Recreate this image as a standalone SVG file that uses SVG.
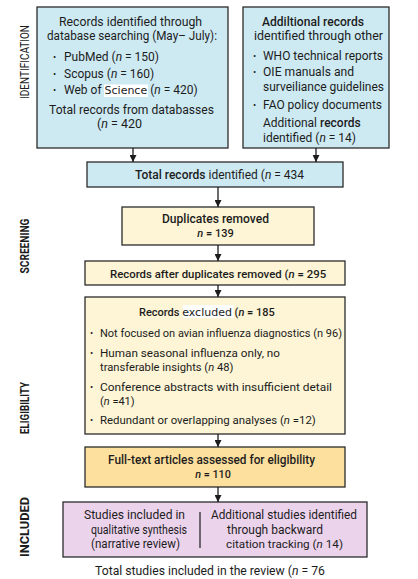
<svg xmlns="http://www.w3.org/2000/svg" width="418" height="579" viewBox="0 0 418 579">
<style>
.bg{fill:#ffffff}
.box{stroke:#2b2b2b;stroke-width:1.3}
.blue{fill:#cdeaf3}
.yel{fill:#fdf5d6}
.org{fill:#fddf9e}
.pur{fill:#ecd3ec}
text{font-family:Roboto,"Open Sans","Noto Sans",sans-serif;fill:#1c1c1c}
.f125{font-size:12.5px}
.f12{font-size:12px}
.f115{font-size:11.5px}
.b{font-weight:500}
.side{font-size:12.5px}
.sb{font-weight:700}
.i{font-style:italic}
.alt{font-family:"DejaVu Sans",Verdana,sans-serif;font-size:11px;font-weight:400}
.dot{font-size:9.5px}
.hl{fill:#ffffff}
.conn line{stroke:#1c1c1c;stroke-width:1.3;marker-end:url(#ah)}
.div{stroke:#2b2b2b;stroke-width:1.3}
</style>
<defs>
<marker id="ah" viewBox="0 0 8 8" refX="8" refY="4" markerWidth="7" markerHeight="7" markerUnits="userSpaceOnUse" orient="auto">
<path d="M0,0 L8,4 L0,8 z" fill="#1c1c1c"/>
</marker>
</defs>
<rect class="bg" x="0" y="0" width="418" height="579"/>

<g id="labels">
<text class="side" transform="translate(29,62) rotate(-90)" text-anchor="middle" textLength="74" lengthAdjust="spacingAndGlyphs">IDENTIFICATION</text>
<text class="side sb" transform="translate(29,246) rotate(-90)" text-anchor="middle" textLength="55" lengthAdjust="spacingAndGlyphs">SCREENING</text>
<text class="side sb" transform="translate(29,408) rotate(-90)" text-anchor="middle" textLength="52" lengthAdjust="spacingAndGlyphs">ELIGIBILITY</text>
<text class="side sb" transform="translate(29,527) rotate(-90)" text-anchor="middle" textLength="60" lengthAdjust="spacingAndGlyphs">INCLUDED</text>
</g>

<g id="db">
<rect class="box blue" x="37" y="7" width="191" height="141"/>
<rect class="hl" x="104" y="84.5" width="44" height="12.5"/>
<text class="f125" x="130.5" y="25.5" text-anchor="middle" textLength="143" lengthAdjust="spacingAndGlyphs">Records identified through</text>
<text class="f125" x="132" y="40" text-anchor="middle" textLength="170" lengthAdjust="spacingAndGlyphs">database searching (May– July):</text>
<text class="dot" x="53" y="60">•</text>
<text class="f12" x="64" y="61">PubMed (<tspan class="i">n</tspan> = 150)</text>
<text class="dot" x="53" y="76.5">•</text>
<text class="f12" x="64" y="77.5">Scopus (<tspan class="i">n</tspan> = 160)</text>
<text class="dot" x="53" y="93">•</text>
<text class="f12" x="64" y="94">Web of <tspan class="alt">Science</tspan> (<tspan class="i">n</tspan> = 420)</text>
<text class="f125" x="131.5" y="114" text-anchor="middle" textLength="165" lengthAdjust="spacingAndGlyphs">Total records from databasses</text>
<text class="f125" x="97" y="128">(<tspan class="i">n</tspan> = 420</text>
</g>

<g id="other">
<rect class="box blue" x="243" y="7" width="146" height="141"/>
<text class="f125 b" x="313" y="25.5" text-anchor="middle" textLength="102" lengthAdjust="spacingAndGlyphs">Addiltional records</text>
<text class="f125" x="318.5" y="39.5" text-anchor="middle" textLength="129" lengthAdjust="spacingAndGlyphs">identified through other</text>
<text class="dot" x="253" y="58.5">•</text>
<text class="f125" x="263" y="59.5" textLength="120" lengthAdjust="spacingAndGlyphs">WHO technical reports</text>
<text class="dot" x="253" y="75">•</text>
<text class="f125" x="263" y="76" textLength="91" lengthAdjust="spacingAndGlyphs">OIE manuals and</text>
<text class="f125" x="263" y="90.5" textLength="121" lengthAdjust="spacingAndGlyphs">surveiliance guidelines</text>
<text class="dot" x="253" y="107.5">•</text>
<text class="f125" x="263" y="108.5" textLength="119" lengthAdjust="spacingAndGlyphs">FAO policy documents</text>
<text class="f12" x="263" y="126.5">Additional <tspan class="b">records</tspan></text>
<text class="f12" x="263" y="141.5">identified (<tspan class="i">n</tspan> = 14)</text>
</g>

<g id="total">
<rect class="box blue" x="87" y="162" width="256" height="25"/>
<text class="f12" x="135" y="178.5"><tspan class="b">Total records</tspan> identified (<tspan class="i">n</tspan> = 434</text>
</g>

<g id="dup">
<rect class="box yel" x="122" y="207" width="192" height="38"/>
<text class="f12 b" x="215.5" y="223" text-anchor="middle" textLength="107" lengthAdjust="spacingAndGlyphs">Duplicates removed</text>
<text class="b" font-size="11" x="215.5" y="236.5" text-anchor="middle"><tspan class="i">n</tspan> = 139</text>
</g>

<g id="after">
<rect class="box yel" x="85" y="261" width="260" height="24"/>
<text class="b" font-size="11.4" x="110" y="277.5">Records after duplicates removed (<tspan class="i">n</tspan> = 295</text>
</g>

<g id="excl">
<rect class="box yel" x="85" y="297" width="260" height="137"/>
<rect class="hl" x="183" y="305" width="50.5" height="13"/>
<text class="b" font-size="11" x="139" y="316">Records <tspan class="alt">excluded</tspan> (<tspan class="i">n</tspan> = 185</text>
<text class="dot" x="90" y="336">•</text>
<text class="f115" x="100" y="337" textLength="242" lengthAdjust="spacingAndGlyphs">Not focused on avian influenza diagnostics (n 96)</text>
<text class="dot" x="90" y="356">•</text>
<text class="f115" x="100" y="357" textLength="180" lengthAdjust="spacingAndGlyphs">Human seasonal influenza only, no</text>
<text font-size="11.2" x="100" y="370.5">transferable insights (<tspan class="i">n</tspan> 48)</text>
<text class="dot" x="90" y="390">•</text>
<text class="f115" x="100" y="391" textLength="232" lengthAdjust="spacingAndGlyphs">Conference abstracts with insufficient detail</text>
<text font-size="11" x="100" y="404.5">(<tspan class="i">n</tspan> =41)</text>
<text class="dot" x="90" y="423">•</text>
<text font-size="11.4" x="100" y="424">Redundant or overlapping analyses (<tspan class="i">n</tspan> =12)</text>
</g>

<g id="full">
<rect class="box org" x="85" y="447" width="260" height="40"/>
<text class="f12 b" x="211.5" y="464" text-anchor="middle" textLength="207" lengthAdjust="spacingAndGlyphs">Full-text articles assessed for eligibility</text>
<text class="b" font-size="10.8" x="213" y="477.5" text-anchor="middle"><tspan class="i">n</tspan> = 110</text>
</g>

<g id="incl">
<rect class="box pur" x="63" y="502" width="304" height="55"/>
<line class="div" x1="200" y1="512" x2="200" y2="548"/>
<text class="f12" x="134.5" y="518.5" text-anchor="middle" textLength="101" lengthAdjust="spacingAndGlyphs">Studies included in</text>
<text class="f12" x="139" y="533.5" text-anchor="middle" textLength="96" lengthAdjust="spacingAndGlyphs">qualitative synthesis</text>
<text class="f12" x="135.5" y="548" text-anchor="middle" textLength="89" lengthAdjust="spacingAndGlyphs">(narrative review)</text>
<text class="f12" x="284" y="518.5" text-anchor="middle" textLength="146" lengthAdjust="spacingAndGlyphs">Additional studies identified</text>
<text class="f12" x="275" y="533.5" text-anchor="middle" textLength="96" lengthAdjust="spacingAndGlyphs">through backward</text>
<text font-size="11.7" x="284.5" y="548" text-anchor="middle">citation tracking (<tspan class="i">n</tspan> 14)</text>
</g>

<g id="sum">
<text font-size="12.2" x="210" y="574.5" text-anchor="middle">Total studies included in the review (<tspan class="i">n</tspan> = 76</text>
</g>

<g id="connectors" class="conn">
<line x1="133" y1="148" x2="133" y2="162"/>
<line x1="316" y1="148" x2="316" y2="162"/>
<line x1="218" y1="187" x2="218" y2="207"/>
<line x1="218" y1="245" x2="218" y2="261"/>
<line x1="218" y1="285" x2="218" y2="297"/>
<line x1="218" y1="434" x2="218" y2="447"/>
<line x1="218" y1="487" x2="218" y2="502"/>
</g>
</svg>
